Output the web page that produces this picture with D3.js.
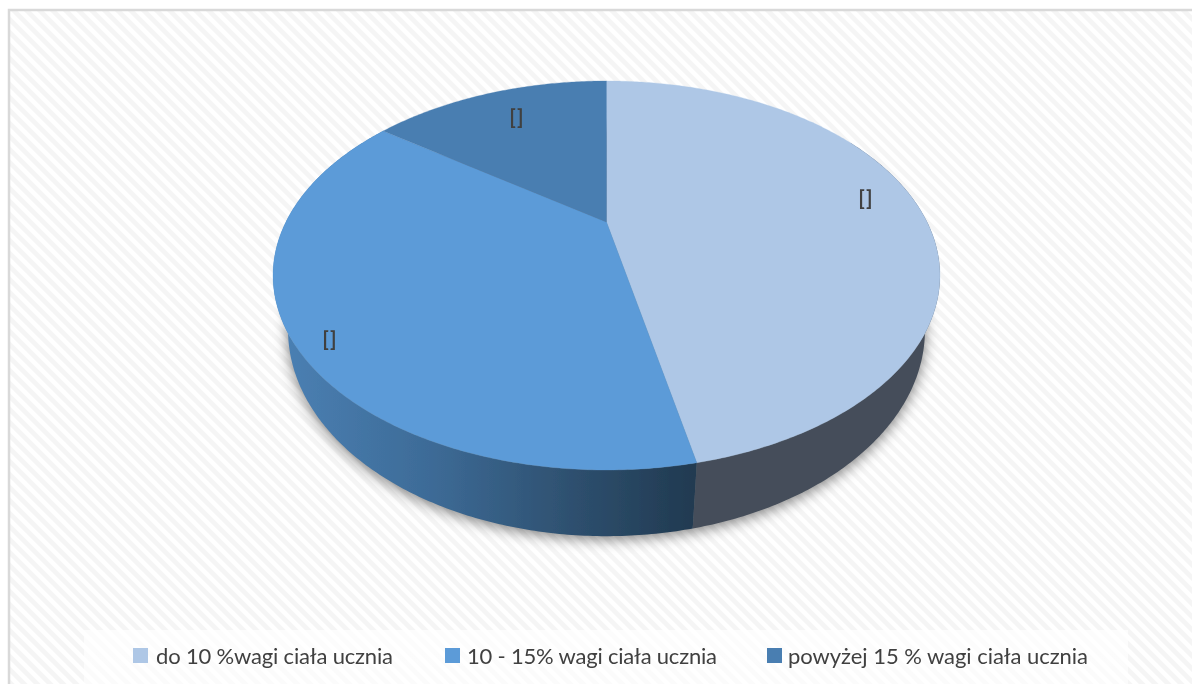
<!DOCTYPE html>
<html lang="pl">
<head>
<meta charset="utf-8">
<script src="https://cdn.jsdelivr.net/npm/d3@7/dist/d3.min.js"></script>
<style>
html,body{margin:0;padding:0;background:#fff;overflow:hidden}
svg{display:block}
text{font-family:Lato,"Open Sans",sans-serif;fill:#404040}
</style>
</head>
<body>
<svg id="chart" width="1192" height="684"></svg>
<script>
const categories = ["do 10 %wagi ciała ucznia", "10 - 15% wagi ciała ucznia", "powyżej 15 % wagi ciała ucznia"];
const values = [46.7, 38.3, 15.0];
const dataLabels = ["[]", "[]", "[]"];
const topColors = ["#aec7e6", "#5b9bd8", "#4a7eb1"];

const W = 1192, H = 684;
const svg = d3.select("#chart");
const defs = svg.append("defs");

// hatched chart background
const pat = defs.append("pattern").attr("id", "hatch").attr("patternUnits", "userSpaceOnUse")
  .attr("width", 13).attr("height", 13);
pat.append("rect").attr("width", 13).attr("height", 13).attr("fill", "#ffffff");
pat.append("path").attr("d", "M0,0H6.5L13,6.5V13L0,0Z M0,6.5L6.5,13H0Z").attr("fill", "#f5f5f5");

svg.append("rect").attr("width", W).attr("height", H).attr("fill", "#fff");
svg.append("rect").attr("x", 8).attr("y", 9).attr("width", W - 8).attr("height", H - 9).attr("fill", "url(#hatch)");
svg.append("path").attr("d", `M9,${H}V10H${W}`).attr("fill", "none").attr("stroke", "#d9d9d9").attr("stroke-width", 2.5);

// perspective projection of the pie disc
const cx = 606.5, cy = 222, k = -0.275, A = 320.6, B = 179.8;
const topY0 = 275.5, baseY0 = 330, baseScaleX = 0.955, baseScaleY = 1.06;
function projTop(t) {
  const u = Math.sin(t), v = -Math.cos(t), d = 1 + k * v;
  return [cx + A * u / d, cy + B * v / d];
}
function projBase(t) {
  const p = projTop(t);
  return [cx + baseScaleX * (p[0] - cx), baseY0 + baseScaleY * (p[1] - topY0)];
}
const samples = (a, b) => { const n = Math.max(2, Math.ceil(Math.abs(b - a) / 0.01)); return d3.range(n + 1).map(i => a + (b - a) * i / n); };
const line = d3.line().curve(d3.curveLinear);

const arcs = d3.pie().sort(null).value(d => d)(values);
const color = d3.scaleOrdinal().domain(categories).range(topColors);

// shadow
defs.append("filter").attr("id", "soft").attr("x", "-10%").attr("y", "-10%").attr("width", "120%").attr("height", "120%")
  .append("feGaussianBlur").attr("stdDeviation", 7);
const fullTurn = samples(0, 2 * Math.PI);
svg.append("path").attr("d", line(fullTurn.map(projBase)) + "Z")
  .attr("transform", "translate(0,3)")
  .attr("fill", "#000").attr("fill-opacity", 0.5).attr("filter", "url(#soft)");

const g = svg.append("g");
defs.append("filter").attr("id", "crisp").append("feGaussianBlur").attr("stdDeviation", 0.45);
g.attr("filter", "url(#crisp)");

// wall gradient for second slice
const grad = defs.append("linearGradient").attr("id", "wall2").attr("gradientUnits", "userSpaceOnUse")
  .attr("x1", projBase(3 * Math.PI / 2 - 0.28)[0]).attr("x2", projBase(arcs[1].startAngle)[0]).attr("y1", 0).attr("y2", 0);
[[0, "#4a7fb2"], [0.35, "#3d6b97"], [0.7, "#2e506f"], [1, "#213a51"]].forEach(s =>
  grad.append("stop").attr("offset", s[0]).attr("stop-color", s[1]));

function wall(a, b, fill) {
  const ts = samples(a, b);
  const pts = ts.map(projBase).concat(ts.slice().reverse().map(projTop));
  g.append("path").attr("d", line(pts) + "Z").attr("fill", fill);
}
// walls: only the near part of the rim is visible, the rest lies beneath the top face
wall(Math.PI / 3, arcs[0].endAngle, "#444d5a");
wall(arcs[1].startAngle, arcs[1].endAngle, "url(#wall2)");

// top faces
arcs.forEach((d, i) => {
  const pts = [[cx, cy]].concat(samples(d.startAngle, d.endAngle).map(projTop));
  g.append("path").attr("d", line(pts) + "Z").attr("fill", color(categories[i]))
    .attr("stroke", color(categories[i])).attr("stroke-width", 0.3);
});

// data labels
const labelAt = [[866, 198], [330, 339], [517, 117]];
arcs.forEach((d, i) => {
  g.append("text").attr("x", labelAt[i][0]).attr("y", labelAt[i][1]).attr("dy", "0.35em")
    .attr("text-anchor", "middle").attr("font-size", 21).attr("font-weight", 700)
    .attr("letter-spacing", 1.2).text(dataLabels[i]);
});

// legend
const lg = defs.append("linearGradient").attr("id", "legbg").attr("x1", 0).attr("x2", 0).attr("y1", 0).attr("y2", 1);
lg.append("stop").attr("offset", 0).attr("stop-color", "#fff").attr("stop-opacity", 0.75);
lg.append("stop").attr("offset", 1).attr("stop-color", "#fff").attr("stop-opacity", 0.6);
svg.append("rect").attr("x", 84).attr("y", 630).attr("width", 1044).attr("height", 54).attr("fill", "url(#legbg)");

const legendG = svg.append("g").attr("filter", "url(#crisp)");
const legendX = [133, 445, 767];
const legendTextX = [156, 467, 788];
const legendTextW = [237, 250, 300];
categories.forEach((c, i) => {
  legendG.append("rect").attr("x", legendX[i]).attr("y", 648).attr("width", 15).attr("height", 15)
    .attr("fill", color(c));
  legendG.append("text").attr("x", legendTextX[i]).attr("y", 664).attr("font-size", 22)
    .attr("textLength", legendTextW[i]).attr("lengthAdjust", "spacing").text(c);
});
</script>
</body>
</html>
